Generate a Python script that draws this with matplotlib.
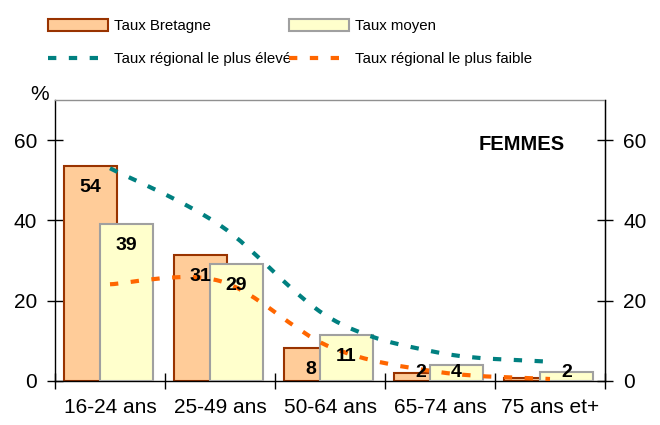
import matplotlib
matplotlib.use("Agg")
import matplotlib.pyplot as plt
from matplotlib.path import Path
from matplotlib.patches import PathPatch, Patch
from matplotlib.lines import Line2D
import numpy as np

categories = ["16-24 ans", "25-49 ans", "50-64 ans", "65-74 ans", "75 ans et+"]
taux_bretagne = [53.6, 31.4, 8.2, 2.0, 0.7]
taux_moyen = [39.1, 29.1, 11.4, 4.0, 2.2]
taux_max = [53.0, 38.8, 15.7, 7.0, 4.8]
taux_min = [24.1, 24.9, 8.5, 2.2, 0.5]
y_ticks = [0, 20, 40, 60]

plt.rcParams['font.family'] = ['Liberation Sans', 'DejaVu Sans']

c_bret_face, c_bret_edge = '#FFCC99', '#993300'
c_moy_face, c_moy_edge = '#FFFFCC', '#A0A0A0'
c_teal, c_orange = '#008080', '#FF6600'

fig = plt.figure(figsize=(6.6, 4.25), dpi=100)
ax = fig.add_axes([55/660, 44/425, 550/660, 281/425])

x = np.arange(len(categories))
w = 0.48
b1 = ax.bar(x - 0.177, taux_bretagne, w, color=c_bret_face, edgecolor=c_bret_edge, linewidth=1.5, zorder=2)
b2 = ax.bar(x + 0.15, taux_moyen, w, color=c_moy_face, edgecolor=c_moy_edge, linewidth=1.5, zorder=3)


def smooth_path(xs, ys):
    pts = list(zip(xs, ys))
    n = len(pts)
    verts = [pts[0]]
    codes = [Path.MOVETO]
    for i in range(n - 1):
        p0 = pts[max(i - 1, 0)]
        p1 = pts[i]
        p2 = pts[i + 1]
        p3 = pts[min(i + 2, n - 1)]
        c1 = (p1[0] + (p2[0] - p0[0]) / 6, p1[1] + (p2[1] - p0[1]) / 6)
        c2 = (p2[0] - (p3[0] - p1[0]) / 6, p2[1] - (p3[1] - p1[1]) / 6)
        verts += [c1, c2, p2]
        codes += [Path.CURVE4] * 3
    return Path(verts, codes)


dash = (0, (2, 3))
ax.add_patch(PathPatch(smooth_path(x, taux_max), fill=False, edgecolor=c_teal,
                       linewidth=3, linestyle=dash, capstyle='butt', zorder=4))
ax.add_patch(PathPatch(smooth_path(x, taux_min), fill=False, edgecolor=c_orange,
                       linewidth=3, linestyle=dash, capstyle='butt', zorder=4))

for bars, vals in ((b1, taux_bretagne), (b2, taux_moyen)):
    for r, v in zip(bars, vals):
        lab = f"{v:.0f}"
        if v < 1.0:
            continue
        yl = max(v - 5.4, 2.0)
        ax.text(r.get_x() + r.get_width() / 2, yl, lab, ha='center', va='center',
                fontsize=14, fontweight='bold', color='black', zorder=6)

ax.set_xlim(-0.5, len(categories) - 0.5)
ax.set_ylim(0, 70)
ax.set_yticks(y_ticks)
ax.set_xticks(x)
ax.set_xticklabels(categories, fontsize=15)
ax.set_xticks(np.arange(len(categories) + 1) - 0.5, minor=True)
ax.tick_params(axis='x', which='major', length=0, pad=12)
ax.tick_params(axis='x', which='minor', direction='inout', length=11, width=1)
ax.tick_params(axis='y', direction='inout', length=12, width=1, labelsize=15, pad=7)
ax.spines['top'].set_color('#909090')
ax.spines['top'].set_linewidth(1)
for s in ('left', 'bottom', 'right'):
    ax.spines[s].set_color('black')
    ax.spines[s].set_linewidth(1)

ax2 = ax.twinx()
ax2.set_ylim(ax.get_ylim())
ax2.set_yticks(y_ticks)
ax2.tick_params(axis='y', direction='inout', length=12, width=1, labelsize=15, pad=7)
ax2.spines['top'].set_visible(False)
ax2.spines['left'].set_visible(False)
ax2.spines['bottom'].set_visible(False)

ax.text(0.927, 0.84, "FEMMES", transform=ax.transAxes, ha='right', va='center',
        fontsize=14.5, fontweight='bold')
fig.text(40/660, 1 - 95/425, "%", ha='center', va='center', fontsize=15)

h_bret = Patch(facecolor=c_bret_face, edgecolor=c_bret_edge, linewidth=1.5)
h_moy = Patch(facecolor=c_moy_face, edgecolor=c_moy_edge, linewidth=1.5)
h_max = Line2D([], [], color=c_teal, linewidth=3, linestyle=dash, dash_capstyle='butt')
h_min = Line2D([], [], color=c_orange, linewidth=3, linestyle=dash, dash_capstyle='butt')

legkw = dict(loc='upper left', frameon=False, borderpad=0, borderaxespad=0,
             handlelength=4.0, handleheight=0.8, handletextpad=0.4,
             labelspacing=1.3, prop={'size': 10.8})
leg1 = fig.legend([h_bret, h_max], ["Taux Bretagne", "Taux régional le plus élevé"],
                  bbox_to_anchor=(48/660, 1 - 19/425), **legkw)
leg2 = fig.legend([h_moy, h_min], ["Taux moyen", "Taux régional le plus faible"],
                  bbox_to_anchor=(289/660, 1 - 19/425), **legkw)

fig.savefig("out.png", dpi=100)
